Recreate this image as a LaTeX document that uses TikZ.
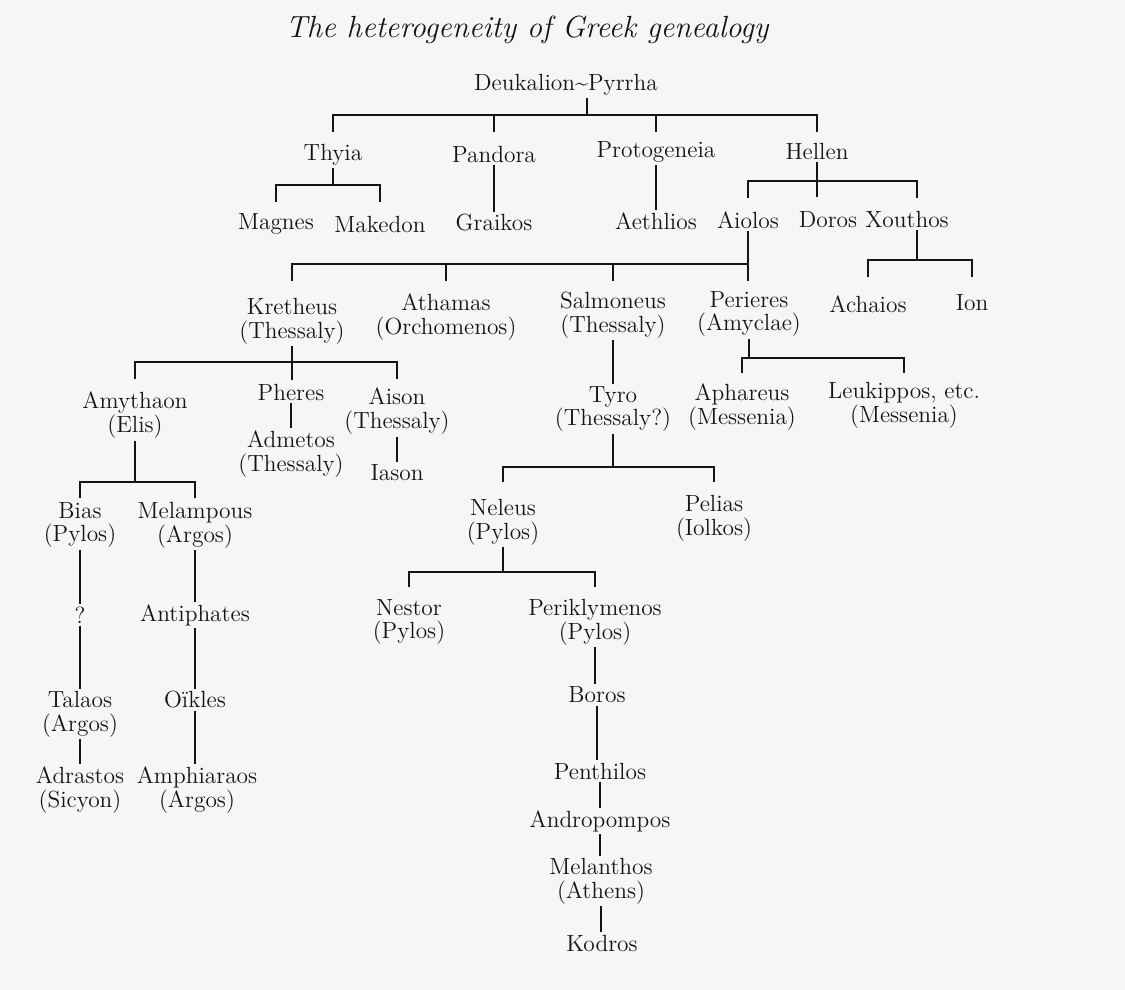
\documentclass[tikz,border=0pt]{standalone}
\usepackage{fontspec}
\definecolor{paper}{RGB}{246,246,246}
\definecolor{ink}{RGB}{20,20,20}
\begin{document}
\begin{tikzpicture}[
	x=0.5pt,
	y=-0.5pt,
	person/.style={
		align=center,
		inner sep=1pt,
		text=ink,
		font=\fontsize{11.7}{11.9}\selectfont
	},
	heading/.style={
		inner sep=0pt,
		text=ink,
		font=\fontsize{15.3}{17}\selectfont\itshape
	},
	kin/.style={
		line width=1pt,
		draw=ink
	},
]

\fill[paper] (0,0) rectangle (1125,990);

\node[heading] (title) at (527, 30) {The heterogeneity of Greek genealogy};

\node[person] (deuk) at (566, 85) {Deukalion\textasciitilde Pyrrha};

\node[person] (thyia) at (333, 155) {Thyia};
\node[person] (pandora) at (494, 154) {Pandora};
\node[person] (proto) at (656, 152) {Protogeneia};
\node[person] (hellen) at (817, 151) {Hellen};

\node[person] (magnes) at (276, 224) {Magnes};
\node[person] (makedon) at (380, 224) {Makedon};
\node[person] (graikos) at (494, 223) {Graikos};
\node[person] (aethlios) at (656, 221) {Aethlios};
\node[person] (aiolos) at (748, 220) {Aiolos};
\node[person] (doros) at (828, 220) {Doros};
\node[person] (xouthos) at (907, 219) {Xouthos};

\node[person] (kretheus) at (292, 321) {Kretheus\\(Thessaly)};
\node[person] (athamas) at (446, 317) {Athamas\\(Orchomenos)};
\node[person] (salmoneus) at (613, 315) {Salmoneus\\(Thessaly)};
\node[person] (perieres) at (749, 314) {Perieres\\(Amyclae)};
\node[person] (achaios) at (868, 304) {Achaios};
\node[person] (ion) at (972, 303) {Ion};

\node[person] (amythaon) at (135, 415) {Amythaon\\(Elis)};
\node[person] (pheres) at (291, 392) {Pheres};
\node[person] (aison) at (397, 411) {Aison\\(Thessaly)};
\node[person] (admetos) at (291, 454) {Admetos\\(Thessaly)};
\node[person] (iason) at (397, 473) {Iason};

\node[person] (tyro) at (613, 409) {Tyro\\(Thessaly?)};
\node[person] (aphareus) at (742, 407) {Aphareus\\(Messenia)};
\node[person] (leukippos) at (904, 405) {Leukippos, etc.\\(Messenia)};

\node[person] (bias) at (80, 525) {Bias\\(Pylos)};
\node[person] (melampous) at (195, 525) {Melampous\\(Argos)};
\node[person] (unknown) at (80, 615) {?};
\node[person] (antiphates) at (195, 615) {Antiphates};
\node[person] (talaos) at (80, 714) {Talaos\\(Argos)};
\node[person] (oikles) at (195, 700) {Oïkles};
\node[person] (adrastos) at (80, 790) {Adrastos\\(Sicyon)};
\node[person] (amphiaraos) at (197, 790) {Amphiaraos\\(Argos)};

\node[person] (neleus) at (503, 522) {Neleus\\(Pylos)};
\node[person] (pelias) at (714, 518) {Pelias\\(Iolkos)};
\node[person] (nestor) at (409, 622) {Nestor\\(Pylos)};
\node[person] (periklymenos) at (595, 622) {Periklymenos\\(Pylos)};
\node[person] (boros) at (597, 695) {Boros};
\node[person] (penthilos) at (600, 771) {Penthilos};
\node[person] (andropompos) at (600, 821) {Andropompos};
\node[person] (melanthos) at (601, 881) {Melanthos\\(Athens)};
\node[person] (kodros) at (602, 943) {Kodros};

% Deukalion and Pyrrha
\coordinate (deukdrop) at ([xshift=10.5pt]deuk.south);
\draw[kin] (deukdrop) -- (deukdrop |- 0,115);
\draw[kin] (thyia.north |- 0,132) |- (hellen.north |- 0,115) -- ++(0,17);
\draw[kin] (pandora.north |- 0,115) -- ++(0,17);
\draw[kin] (proto.north |- 0,115) -- ++(0,17);

\draw[kin] (thyia.south) -- (thyia.south |- 0,185);
\draw[kin] (magnes.north |- 0,202) |- (makedon.north |- 0,185) -- ++(0,17);

\draw[kin] (pandora.south) -- (pandora.south |- graikos.north);
\draw[kin] (proto.south) -- (proto.south |- aethlios.north);

\draw[kin] (hellen.south) -- (hellen.south |- 0,197);
\coordinate (xouthosdrop) at ([xshift=5pt]xouthos.north);
\draw[kin] (aiolos.north |- 0,198) |- (xouthosdrop |- 0,181) -- ++(0,17);

% Aiolos
\draw[kin] (aiolos.south) -- (aiolos.south |- 0,281);
\draw[kin] (kretheus.north |- 0,281) |- (aiolos.south |- 0,264);
\draw[kin] (athamas.north |- 0,264) -- ++(0,17);
\draw[kin] (salmoneus.north |- 0,264) -- ++(0,17);

\coordinate (xouthosout) at ([xshift=5pt]xouthos.south);
\draw[kin] (xouthosout) -- (xouthosout |- 0,260);
\draw[kin] (achaios.north |- 0,277) |- (ion.north |- 0,260) -- ++(0,17);

% Kretheus
\draw[kin] (kretheus.south) -- (kretheus.south |- 0,380);
\draw[kin] (amythaon.north |- 0,379) |- (aison.north |- 0,362) -- ++(0,17);
\draw[kin] (pheres.south) -- (pheres.south |- admetos.north);
\draw[kin] (aison.south) -- (aison.south |- iason.north);

\draw[kin] (amythaon.south) -- (amythaon.south |- 0,482);
\draw[kin] (bias.north |- 0,498) |- (melampous.north |- 0,482) -- ++(0,16);
\draw[kin] (bias.south) -- (bias.south |- unknown.north);
\draw[kin] (unknown.south) -- (unknown.south |- talaos.north);
\draw[kin] (talaos.south) -- (talaos.south |- adrastos.north);
\draw[kin] (melampous.south) -- (melampous.south |- antiphates.north);
\draw[kin] (antiphates.south) -- (antiphates.south |- oikles.north);
\draw[kin] (oikles.south) -- (oikles.south |- amphiaraos.north);

% Salmoneus
\draw[kin] (salmoneus.south) -- (salmoneus.south |- tyro.north);
\draw[kin] (tyro.south) -- (tyro.south |- 0,467);
\draw[kin] (neleus.north |- 0,482) |- (pelias.north |- 0,467) -- ++(0,15);
\draw[kin] (neleus.south) -- (neleus.south |- 0,572);
\draw[kin] (nestor.north |- 0,587) |- (periklymenos.north |- 0,572) -- ++(0,15);
\draw[kin] (periklymenos.south) -- (periklymenos.south |- boros.north);
\draw[kin] (boros.south) -- (boros.south |- penthilos.north);
\draw[kin] (penthilos.south) -- (penthilos.south |- andropompos.north);
\draw[kin] (andropompos.south) -- (andropompos.south |- melanthos.north);
\draw[kin] (melanthos.south) -- (melanthos.south |- kodros.north);

% Perieres
\draw[kin] (perieres.south) -- (perieres.south |- 0,358);
\draw[kin] (aphareus.north |- 0,373) |- (leukippos.north |- 0,358) -- ++(0,15);

\end{tikzpicture}
\end{document}
